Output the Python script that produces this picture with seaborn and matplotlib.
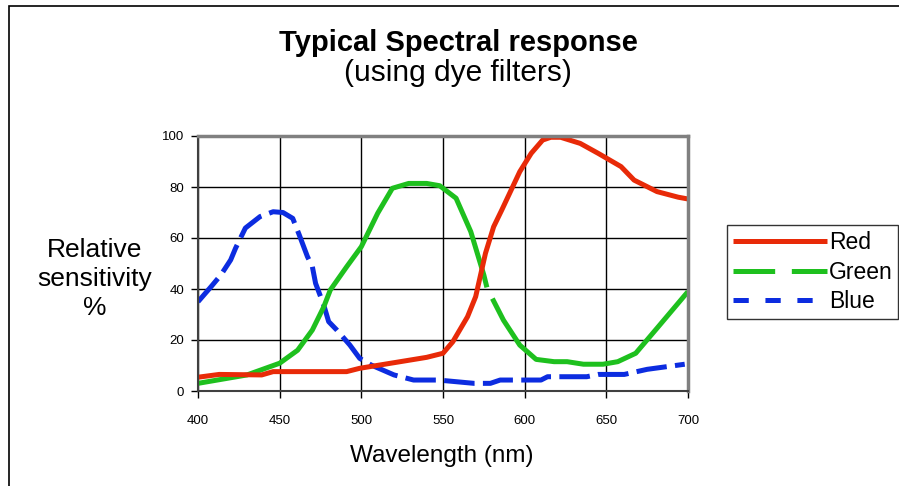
import matplotlib
matplotlib.use("Agg")
import matplotlib.pyplot as plt
import seaborn as sns
import numpy as np
import pandas as pd
from matplotlib.lines import Line2D
from matplotlib.patches import Rectangle

# ---- data ----
red_wl = [400, 413, 439, 446, 491, 499, 520, 540, 550, 556, 565, 570, 576, 581, 586,
          597, 604, 611, 616, 622, 634, 645, 659, 667, 681, 694, 700]
red_val = [5.4, 6.5, 6.3, 7.6, 7.6, 8.9, 11.1, 13.2, 14.8, 19.3, 29.1, 37, 54, 64.4, 71,
           86, 93.2, 98.4, 99.5, 99.5, 97.1, 93.2, 88, 82.7, 78.2, 76, 75.3]

green_wl = [400, 430, 450, 461, 470, 477, 481, 491, 500, 510, 519, 529, 540, 548, 558,
            567, 575, 577, 587, 597, 607, 618, 626, 636, 648, 657, 668, 681, 700]
green_val = [3, 6.3, 10.9, 16, 23.9, 33, 39.6, 48.7, 56.6, 69.7, 79.5, 81.4, 81.4, 80.5, 75.6,
             62.5, 45.5, 40.3, 27.8, 18, 12.4, 11.5, 11.5, 10.5, 10.5, 11.5, 14.8, 24.6, 39]

blue_wl = [400, 408, 414, 420, 423, 429, 438, 446, 452, 458, 462, 467, 470, 472, 477, 480,
           485, 493, 499, 506, 520, 532, 547, 569, 579, 585, 610, 614, 638, 645, 661, 675, 698]
blue_val = [35, 40.9, 45.5, 51.4, 56, 63.9, 68.4, 70.3, 70, 67.7, 61.2, 52.7, 48.8, 42.2, 33.7, 27.2,
            23.9, 18, 12.8, 10.2, 6.3, 4.3, 4.3, 3, 3, 4.3, 4.3, 5.6, 5.6, 6.5, 6.5, 8.5, 10.5]

series_names = ["Red", "Green", "Blue"]
x_ticks = [400, 450, 500, 550, 600, 650, 700]
y_ticks = [0, 20, 40, 60, 80, 100]

title = "Typical Spectral response"
subtitle = "(using dye filters)"
xlabel = "Wavelength (nm)"
ylabel = "Relative\nsensitivity\n%"

# ---- style ----
sns.set_style("white")
plt.rcParams["font.family"] = ["Liberation Sans", "DejaVu Sans"]
plt.rcParams["lines.scale_dashes"] = False
plt.rcParams["text.color"] = "black"
plt.rcParams["xtick.color"] = "black"
plt.rcParams["ytick.color"] = "black"

colors = {"Red": "#e82a08", "Green": "#1ec01e", "Blue": "#0c2ce0"}
lw = 3.6
dash_style = {"Red": None, "Green": (0, (330, 9)), "Blue": (0, (22, 6))}

fig = plt.figure(figsize=(8.99, 4.86), dpi=100)
W, H = 899, 486
ax = fig.add_axes([198 / W, 1 - 391 / H, (688 - 198) / W, (391 - 136) / H])

data = {
    "Red": (red_wl, red_val),
    "Green": (green_wl, green_val),
    "Blue": (blue_wl, blue_val),
}
for name in ["Blue", "Green", "Red"]:
    xs, ys = data[name]
    df = pd.DataFrame({"wl": xs, "val": ys})
    sns.lineplot(data=df, x="wl", y="val", ax=ax, color=colors[name], lw=lw,
                 sort=False, estimator=None)
    ln = ax.lines[-1]
    ln.set_solid_capstyle("butt")
    ln.set_dash_capstyle("butt")
    if dash_style[name] is not None:
        ln.set_linestyle(dash_style[name])

ax.set_xlim(400, 700)
ax.set_ylim(0, 100)
ax.set_xticks(x_ticks)
ax.set_yticks(y_ticks)
ax.set_xticklabels([str(v) for v in x_ticks], fontsize=9.5)
ax.set_yticklabels([str(v) for v in y_ticks], fontsize=9.5)
ax.set_xlabel("")
ax.set_ylabel("")
ax.grid(True, color="black", lw=1.0)
ax.set_axisbelow(True)
ax.tick_params(axis="both", direction="out", length=5, width=1, color="black",
               bottom=True, left=True)
ax.tick_params(axis="x", pad=12)
ax.tick_params(axis="y", pad=5)
for side in ["top", "right"]:
    ax.spines[side].set_color("#808080")
    ax.spines[side].set_linewidth(2.5)
for side in ["left", "bottom"]:
    ax.spines[side].set_color("#404040")
    ax.spines[side].set_linewidth(1.5)

# titles and labels
fig.text(458 / W, 1 - 43 / H, title, ha="center", va="center", fontsize=21, fontweight="bold")
fig.text(458 / W, 1 - 73 / H, subtitle, ha="center", va="center", fontsize=21.5)
fig.text(442 / W, 1 - 456 / H, xlabel, ha="center", va="center", fontsize=17.5)
fig.text(95 / W, 1 - 279 / H, ylabel, ha="center", va="center", fontsize=19,
         multialignment="center", linespacing=1.25)

# legend
handles = [
    Line2D([], [], color=colors["Red"], lw=lw, solid_capstyle="butt"),
    Line2D([], [], color=colors["Green"], lw=lw, linestyle=(0, (30, 12)), dash_capstyle="butt"),
    Line2D([], [], color=colors["Blue"], lw=lw, linestyle=(0, (11, 12)), dash_capstyle="butt"),
]
leg = fig.legend(handles, series_names, loc="upper left",
                 bbox_to_anchor=(727 / W, 1 - 225 / H), bbox_transform=fig.transFigure,
                 fontsize=16.5, frameon=True, fancybox=False, borderaxespad=0,
                 handlelength=4.1, handletextpad=0.1, borderpad=0.25, labelspacing=0.3)
leg.get_frame().set_edgecolor("black")
leg.get_frame().set_linewidth(1.0)

# outer chart border
fig.patches.append(Rectangle((9 / W, -0.1), 1.2, 1 - 6 / H + 0.1, transform=fig.transFigure,
                             fill=False, edgecolor="black", lw=1.2))

fig.savefig("out.png", dpi=100)
